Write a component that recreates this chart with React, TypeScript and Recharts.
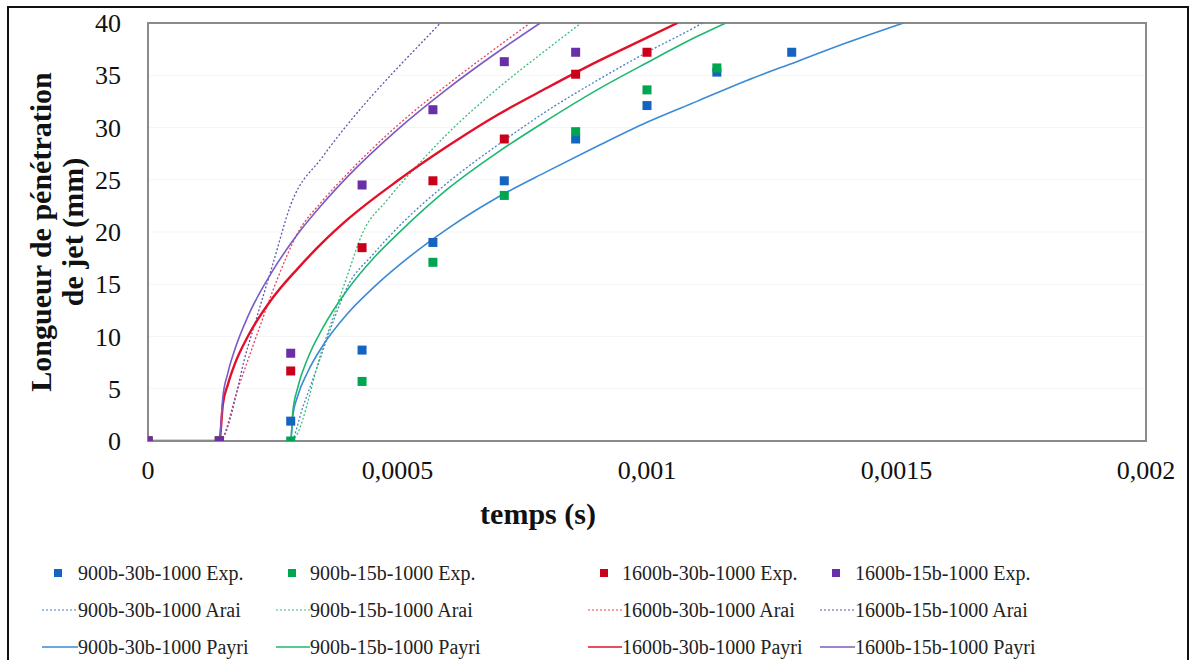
import React from "react";
import { ComposedChart, Line, Scatter, XAxis, YAxis, CartesianGrid, ReferenceArea, Label } from "recharts";

const FONT = '"Liberation Serif", "Times New Roman", serif';

// instants de mesure (s)
const times = [0, 0.000143, 0.000286, 0.000429, 0.000571, 0.000714, 0.000857, 0.001, 0.00114, 0.00129];
const exp900_30 = [0, 0, 1.9, 8.7, 19.0, 24.9, 28.9, 32.1, 35.3, 37.2];
const exp900_15 = [0, 0, 0, 5.7, 17.1, 23.5, 29.6, 33.6, 35.7];
const exp1600_30 = [0, 0, 6.7, 18.5, 24.9, 28.9, 35.1, 37.2];
const exp1600_15 = [0, 0, 8.4, 24.5, 31.7, 36.3, 37.2];

// modèle d'Arai, [t, longueur]
const arai900_30: [number, number][] = [
  [0, 0], [0.000143, 0], [0.000286, 0], [0.00031, 3.2], [0.00034, 7.2], [0.00037, 11.3], [0.0004, 14.8],
  [0.00045, 17.8], [0.0005, 20.4], [0.0006, 24.7], [0.0007, 28.3], [0.0008, 31.6], [0.0009, 34.5],
  [0.001, 37.2], [0.0011, 39.7], [0.001111, 40],
];
const arai900_15: [number, number][] = [
  [0, 0], [0.000143, 0], [0.000286, 0], [0.00035, 8.9], [0.0004, 15.9], [0.000429, 19.8], [0.00048, 23.1],
  [0.00055, 26.9], [0.0006, 29.4], [0.0007, 33.7], [0.0008, 37.5], [0.000868, 40],
];
const arai1600_30: [number, number][] = [
  [0, 0], [0.000143, 0], [0.00018, 5.0], [0.00022, 10.4], [0.00026, 15.6], [0.0003, 19.9], [0.00035, 23.0],
  [0.0004, 25.6], [0.0005, 30.2], [0.0006, 34.1], [0.0007, 37.7], [0.000766, 40],
];
const arai1600_15: [number, number][] = [
  [0, 0], [0.000143, 0], [0.0002, 9.0], [0.00025, 16.9], [0.000286, 22.6], [0.00035, 27.2], [0.0004, 30.3],
  [0.00045, 33.1], [0.0005, 35.7], [0.00055, 38.2], [0.000586, 40],
];

// modèle de Payri
const payri900_30: [number, number][] = [
  [0, 0], [0.000143, 0], [0.000286, 0], [0.00029, 2.3], [0.0003, 4.3], [0.00032, 6.6], [0.00035, 9.1],
  [0.0004, 12.2], [0.00045, 14.6], [0.0005, 16.7], [0.0006, 20.3], [0.0007, 23.3], [0.0008, 25.8],
  [0.0009, 28.2], [0.001, 30.5], [0.0011, 32.5], [0.0012, 34.5], [0.0013, 36.3], [0.0014, 38.1], [0.001514, 40],
];
const payri900_15: [number, number][] = [
  [0, 0], [0.000143, 0], [0.000286, 0], [0.00029, 2.7], [0.0003, 5.1], [0.00032, 7.9], [0.00035, 10.8],
  [0.0004, 14.5], [0.00045, 17.4], [0.0005, 19.8], [0.0006, 24.1], [0.0007, 27.6], [0.0008, 30.7],
  [0.0009, 33.6], [0.001, 36.2], [0.0011, 38.7], [0.001158, 40],
];
const payri1600_30: [number, number][] = [
  [0, 0], [0.000143, 0], [0.00015, 3.5], [0.00016, 5.4], [0.000175, 7.5], [0.0002, 10.0], [0.00025, 13.7],
  [0.0003, 16.5], [0.00035, 19.0], [0.0004, 21.2], [0.0005, 24.9], [0.0006, 28.2], [0.0007, 31.2],
  [0.0008, 33.8], [0.0009, 36.3], [0.001, 38.6], [0.001061, 40],
];
const payri1600_15: [number, number][] = [
  [0, 0], [0.000143, 0], [0.00015, 4.2], [0.00016, 6.5], [0.000175, 8.9], [0.0002, 11.9], [0.00025, 16.3],
  [0.0003, 19.8], [0.00035, 22.7], [0.0004, 25.3], [0.0005, 29.8], [0.0006, 33.7], [0.0007, 37.2], [0.000786, 40],
];

const xTicks = [0, 0.0005, 0.001, 0.0015, 0.002];
const yTicks = [0, 5, 10, 15, 20, 25, 30, 35, 40];

const expRows = (vals: number[]) => vals.map((v, i) => ({ t: times[i], v }));
const curveRows = (pts: [number, number][]) => pts.map(([t, v]) => ({ t, v }));

const expSeries = [
  { name: "900b-30b-1000 Exp.", color: "#1565C0", data: exp900_30 },
  { name: "900b-15b-1000 Exp.", color: "#00A550", data: exp900_15 },
  { name: "1600b-30b-1000 Exp.", color: "#C8001A", data: exp1600_30 },
  { name: "1600b-15b-1000 Exp.", color: "#6A2FA8", data: exp1600_15 },
];
const araiSeries = [
  { name: "900b-30b-1000 Arai", color: "#4A7FC8", data: arai900_30 },
  { name: "900b-15b-1000 Arai", color: "#38BE78", data: arai900_15 },
  { name: "1600b-30b-1000 Arai", color: "#E8405A", data: arai1600_30 },
  { name: "1600b-15b-1000 Arai", color: "#5E58A8", data: arai1600_15 },
];
const payriSeries = [
  { name: "900b-30b-1000 Payri", color: "#3A8AD6", data: payri900_30, w: 1.6 },
  { name: "900b-15b-1000 Payri", color: "#1DB870", data: payri900_15, w: 1.6 },
  { name: "1600b-30b-1000 Payri", color: "#E3102A", data: payri1600_30, w: 2.4 },
  { name: "1600b-15b-1000 Payri", color: "#7B5BC4", data: payri1600_15, w: 1.6 },
];

const legendSymX = [42, 276, 588, 820];
const legendTextX = [78, 310, 622, 855];
const legendRowY = [573, 610, 647];

function LegendItem({ kind, color, name, col, row }: any) {
  return (
    <div style={{ position: "absolute", left: legendSymX[col], top: legendRowY[row] - 13, height: 26, display: "flex", alignItems: "center" }}>
      <svg width={legendTextX[col] - legendSymX[col]} height={26}>
        {kind === "exp" && <rect x={12} y={9} width={8} height={8} fill={color} />}
        {kind === "arai" && <line x1={0} y1={13} x2={36} y2={13} stroke={color} strokeWidth={1.2} strokeDasharray="2 2" />}
        {kind === "payri" && <line x1={0} y1={13} x2={36} y2={13} stroke={color} strokeWidth={1.6} />}
      </svg>
      <span style={{ fontFamily: FONT, fontSize: 20, color: "#222", whiteSpace: "nowrap" }}>{name}</span>
    </div>
  );
}

const YTitle = (props: any) => {
  const { viewBox } = props;
  const cy = viewBox.y + viewBox.height / 2;
  return (
    <g fontFamily={FONT} fontSize={30} fontWeight="bold" fill="#111">
      <text x={40} y={cy} textAnchor="middle" dominantBaseline="central" transform={`rotate(-90 40 ${cy})`}>
        Longueur de pénétration
      </text>
      <text x={72} y={cy} textAnchor="middle" dominantBaseline="central" transform={`rotate(-90 72 ${cy})`}>
        de jet (mm)
      </text>
    </g>
  );
};

export default function App() {
  const tickStyle = { fontFamily: FONT, fontSize: 26, fill: "#111" };
  return (
    <div style={{ position: "absolute", left: 0, top: 0, width: 1190, height: 660, background: "#fff", overflow: "hidden" }}>
      <div style={{ position: "absolute", left: 7, top: 6, width: 1178, height: 700, border: "2px solid #111" }} />
      <div style={{ position: "absolute", left: 0, top: 0 }}>
        <ComposedChart width={1190} height={660} margin={{ top: 23, right: 44, bottom: 119, left: 0 }}>
          <CartesianGrid vertical={false} stroke="#f5f5f5" />
          <XAxis
            type="number"
            dataKey="t"
            domain={[0, 0.002]}
            ticks={xTicks}
            tickFormatter={(v: number) => String(v).replace(".", ",")}
            tick={tickStyle}
            tickLine={false}
            tickSize={0}
            tickMargin={20}
            axisLine={{ stroke: "#8a8a8a", strokeWidth: 2 }}
            height={100}
            allowDataOverflow
          >
            <Label value="temps (s)" position="insideTop" offset={62} dx={-109} style={{ fontFamily: FONT, fontSize: 30, fontWeight: "bold", fill: "#111" }} />
          </XAxis>
          <YAxis
            type="number"
            dataKey="v"
            domain={[0, 40]}
            ticks={yTicks}
            tick={tickStyle}
            tickLine={false}
            tickSize={0}
            tickMargin={27}
            axisLine={{ stroke: "#8a8a8a", strokeWidth: 2 }}
            width={148}
            allowDataOverflow
          >
            <Label content={YTitle} />
          </YAxis>
          <ReferenceArea x1={0} x2={0.002} y1={0} y2={40} fill="none" stroke="#8a8a8a" strokeWidth={2} />
          {expSeries.map((s) => (
            <Scatter
              key={s.name}
              name={s.name}
              data={expRows(s.data)}
              dataKey="v"
              isAnimationActive={false}
              shape={(p: any) => <rect x={p.cx - 4.5} y={p.cy - 4.5} width={9} height={9} fill={s.color} />}
            />
          ))}
          {araiSeries.map((s) => (
            <Line
              key={s.name}
              name={s.name}
              data={curveRows(s.data)}
              dataKey="v"
              type="monotone"
              stroke={s.color}
              strokeWidth={1.3}
              strokeDasharray="2 2"
              dot={false}
              isAnimationActive={false}
            />
          ))}
          {payriSeries.map((s) => (
            <Line
              key={s.name}
              name={s.name}
              data={curveRows(s.data)}
              dataKey="v"
              type="monotone"
              stroke={s.color}
              strokeWidth={s.w}
              dot={false}
              isAnimationActive={false}
            />
          ))}
        </ComposedChart>
      </div>
      {expSeries.map((s, i) => <LegendItem key={s.name} kind="exp" color={s.color} name={s.name} col={i} row={0} />)}
      {araiSeries.map((s, i) => <LegendItem key={s.name} kind="arai" color={s.color} name={s.name} col={i} row={1} />)}
      {payriSeries.map((s, i) => <LegendItem key={s.name} kind="payri" color={s.color} name={s.name} col={i} row={2} />)}
    </div>
  );
}
